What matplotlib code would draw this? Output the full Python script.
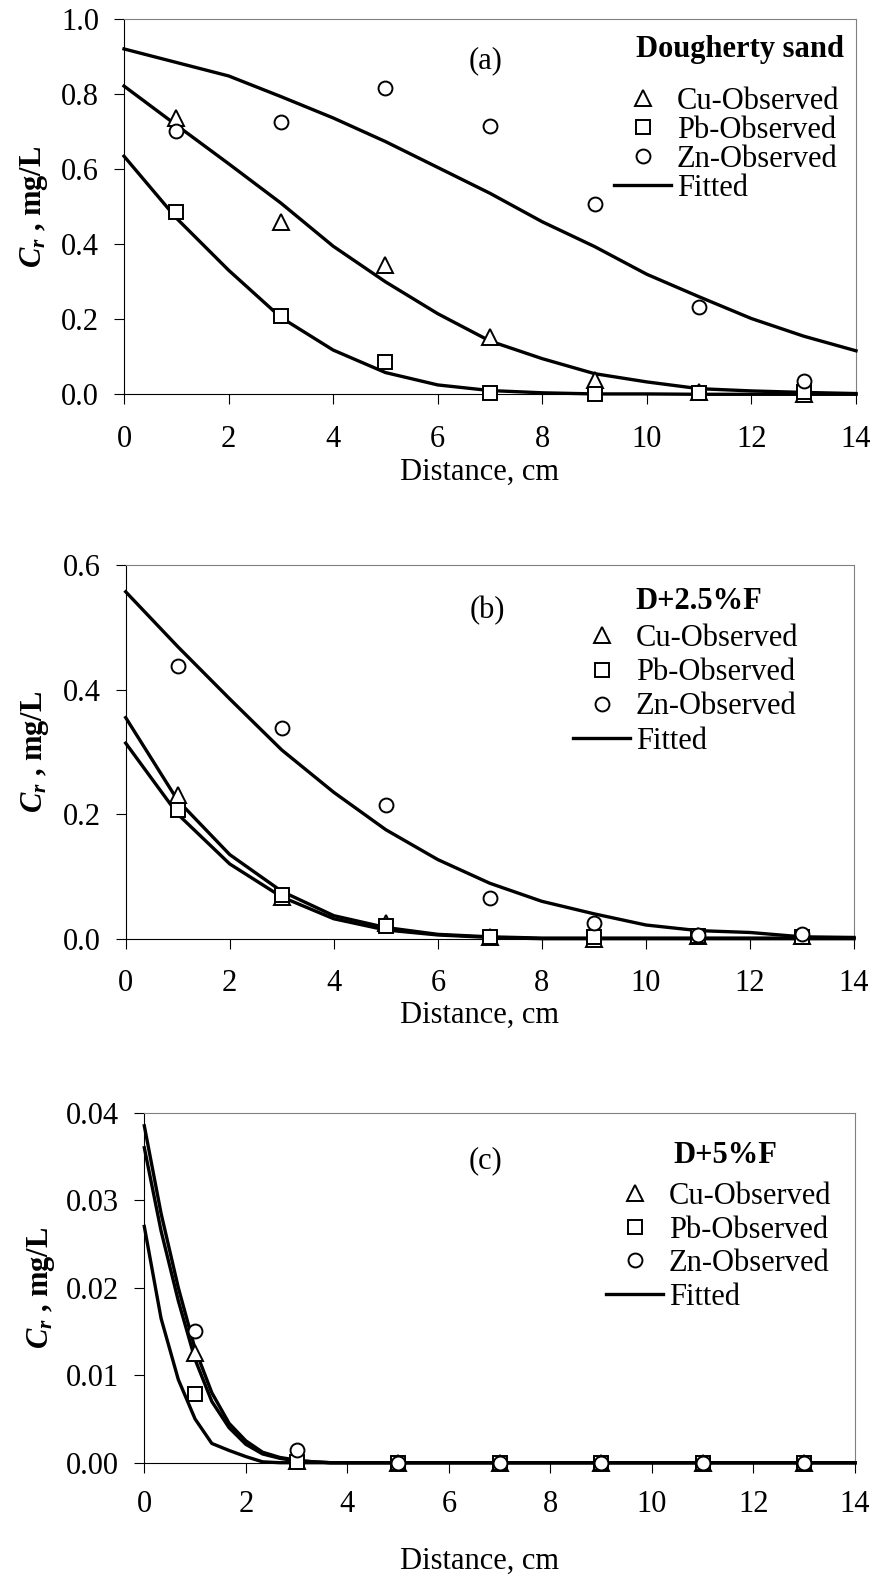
import numpy as np
import matplotlib
matplotlib.use('Agg')
import matplotlib.pyplot as plt
from matplotlib.lines import Line2D

plt.rcParams['font.family'] = 'Liberation Serif'
plt.rcParams['mathtext.fontset'] = 'custom'
plt.rcParams['mathtext.it'] = 'Liberation Serif:italic:bold'
plt.rcParams['mathtext.rm'] = 'Liberation Serif:bold'

W, H = 875, 1576
FS = 22

# observed sampling points (cm)
x_obs = [1, 3, 5, 7, 9, 11, 13]

# (a) Dougherty sand
cu_a = [0.736, 0.460, 0.345, 0.153, 0.038, 0.005, 0.000]
pb_a = [0.487, 0.210, 0.087, 0.003, 0.000, 0.003, 0.005]
zn_a = [0.703, 0.725, 0.818, 0.716, 0.507, 0.232, 0.035]
xf_a = [0, 1, 2, 3, 4, 5, 6, 7, 8, 9, 10, 11, 12, 13, 14]
fit_zn_a = [0.921, 0.885, 0.849, 0.794, 0.737, 0.674, 0.605, 0.536, 0.460, 0.394, 0.320, 0.260, 0.202, 0.155, 0.116]
fit_cu_a = [0.822, 0.718, 0.615, 0.510, 0.395, 0.300, 0.215, 0.142, 0.095, 0.055, 0.033, 0.015, 0.009, 0.005, 0.002]
fit_pb_a = [0.635, 0.470, 0.331, 0.205, 0.118, 0.058, 0.025, 0.010, 0.004, 0.001, 0.001, 0.000, 0.000, 0.000, 0.000]

# (b) D+2.5%F
cu_b = [0.231, 0.067, 0.025, 0.003, 0.000, 0.005, 0.005]
pb_b = [0.207, 0.070, 0.020, 0.002, 0.002, 0.004, 0.003]
zn_b = [0.438, 0.339, 0.215, 0.066, 0.025, 0.006, 0.008]
xf_b = [0, 1, 2, 3, 4, 5, 6, 7, 8, 9, 10, 11, 12, 13, 14]
fit_zn_b = [0.557, 0.469, 0.385, 0.303, 0.235, 0.175, 0.127, 0.089, 0.060, 0.040, 0.022, 0.013, 0.010, 0.003, 0.002]
fit_cu_b = [0.355, 0.222, 0.135, 0.076, 0.037, 0.018, 0.007, 0.003, 0.001, 0.001, 0.001, 0.001, 0.001, 0.001, 0.001]
fit_pb_b = [0.314, 0.200, 0.120, 0.067, 0.032, 0.014, 0.006, 0.002, 0.000, 0.000, 0.000, 0.000, 0.000, 0.000, 0.000]

# (c) D+5%F
cu_c = [0.0125, 0.0002, 0, 0, 0, 0, 0]
pb_c = [0.0079, 0.0001, 0, 0, 0, 0, 0]
zn_c = [0.0150, 0.00145, 0, 0, 0, 0, 0]
xf_c = [0, 0.33, 0.67, 1, 1.33, 1.67, 2, 2.33, 2.67, 3, 3.33, 3.67, 4, 5, 6, 7, 8, 9, 10, 11, 12, 13, 14]
fit_zn_c = [0.0385, 0.0285, 0.0200, 0.0130, 0.0080, 0.0045, 0.0025, 0.0012, 0.0006, 0.0003, 0.0001, 0, 0, 0, 0, 0, 0, 0, 0, 0, 0, 0, 0]
fit_cu_c = [0.0360, 0.0265, 0.0185, 0.0118, 0.0070, 0.0040, 0.0021, 0.0010, 0.0005, 0.0002, 0.0001, 0, 0, 0, 0, 0, 0, 0, 0, 0, 0, 0, 0]
fit_pb_c = [0.0270, 0.0165, 0.0095, 0.0050, 0.0022, 0.0014, 0.0007, 0.0001, 0, 0, 0, 0, 0, 0, 0, 0, 0, 0, 0, 0, 0, 0, 0]

panels = [
    dict(tag='(a)', name='Dougherty sand', cu=cu_a, pb=pb_a, zn=zn_a, xf=xf_a,
         fits=[fit_zn_a, fit_cu_a, fit_pb_a], ylim=1.0, yticks=[0, 0.2, 0.4, 0.6, 0.8, 1.0], fmt='%.1f',
         box=(124, 856, 19.3, 394.3), tagpos=(486, 61), namepos=(636, 57), leg=(677, 87), ls=0.0,
         xlab=(480, 472), ylab=34, xpad=15),
    dict(tag='(b)', name='D+2.5%F', cu=cu_b, pb=pb_b, zn=zn_b, xf=xf_b,
         fits=[fit_zn_b, fit_cu_b, fit_pb_b], ylim=0.6, yticks=[0, 0.2, 0.4, 0.6], fmt='%.1f',
         box=(125.7, 854, 565, 938.7), tagpos=(487, 611), namepos=(635, 609), leg=(636, 624), ls=0.17,
         xlab=(480, 1015), ylab=35, xpad=15),
    dict(tag='(c)', name='D+5%F', cu=cu_c, pb=pb_c, zn=zn_c, xf=xf_c,
         fits=[fit_zn_c, fit_cu_c, fit_pb_c], ylim=0.04, yticks=[0, 0.01, 0.02, 0.03, 0.04], fmt='%.2f',
         box=(144.3, 855, 1112.7, 1462.7), tagpos=(486, 1161), namepos=(673, 1163), leg=(669, 1182), ls=0.15,
         xlab=(480, 1561), ylab=41, xpad=13),
]

fig = plt.figure(figsize=(W / 100, H / 100), dpi=100)

mk = dict(linestyle='none', markerfacecolor='white', markeredgecolor='black',
          markeredgewidth=1.4, zorder=4, clip_on=False)

for p in panels:
    l, r, t, b = p['box']
    ax = fig.add_axes([l / W, 1 - b / H, (r - l) / W, (b - t) / H])

    for fit in p['fits']:
        ax.plot(p['xf'], fit, color='black', lw=2.4, zorder=3, clip_on=False)
    h_cu, = ax.plot(x_obs, p['cu'], marker='^', markersize=11, **mk)
    h_pb, = ax.plot(x_obs, p['pb'], marker='s', markersize=9.5, **mk)
    h_zn, = ax.plot(x_obs, p['zn'], marker='o', markersize=10, **mk)
    h_fit = Line2D([], [], color='black', lw=2.4)

    ax.set_xlim(0, 14)
    ax.set_ylim(0, p['ylim'])
    ax.set_xticks(range(0, 15, 2))
    ax.set_yticks(p['yticks'])
    ax.set_yticklabels([p['fmt'] % v for v in p['yticks']])
    ax.tick_params(direction='out', length=7, width=0.8, labelsize=FS, colors='black')
    ax.tick_params(axis='y', pad=11)
    ax.tick_params(axis='x', pad=p['xpad'])
    for s in ['left', 'bottom']:
        ax.spines[s].set_color('black')
        ax.spines[s].set_linewidth(0.8)
    for s in ['top', 'right']:
        ax.spines[s].set_color('#808080')
        ax.spines[s].set_linewidth(0.8)

    ax.set_xlabel('Distance, cm', fontsize=FS)
    ax.xaxis.label.set_va('center')
    ax.xaxis.set_label_coords((p['xlab'][0] - l) / (r - l), (b - p['xlab'][1]) / (b - t))
    ax.set_ylabel(r'$C_r$ , mg/L', fontsize=FS, fontweight='bold')
    ax.yaxis.label.set_va('center')
    ax.yaxis.set_label_coords((p['ylab'] - l) / (r - l), 0.5)

    fig.text(p['tagpos'][0] / W, 1 - p['tagpos'][1] / H, p['tag'], fontsize=FS,
             ha='center', va='center')
    fig.text(p['namepos'][0] / W, 1 - p['namepos'][1] / H, p['name'], fontsize=FS,
             fontweight='bold', ha='left', va='baseline')

    hl, ht = 1.85, 0.2
    lx = p['leg'][0] - (hl + ht) * FS * 100 / 72
    ax.legend([h_cu, h_pb, h_zn, h_fit], ['Cu-Observed', 'Pb-Observed', 'Zn-Observed', 'Fitted'],
              loc='upper left', bbox_to_anchor=(lx / W, 1 - p['leg'][1] / H),
              bbox_transform=fig.transFigure, frameon=False, borderpad=0, borderaxespad=0,
              handlelength=hl, handletextpad=ht, labelspacing=p['ls'], fontsize=FS)

fig.savefig('out.png', dpi=100)
